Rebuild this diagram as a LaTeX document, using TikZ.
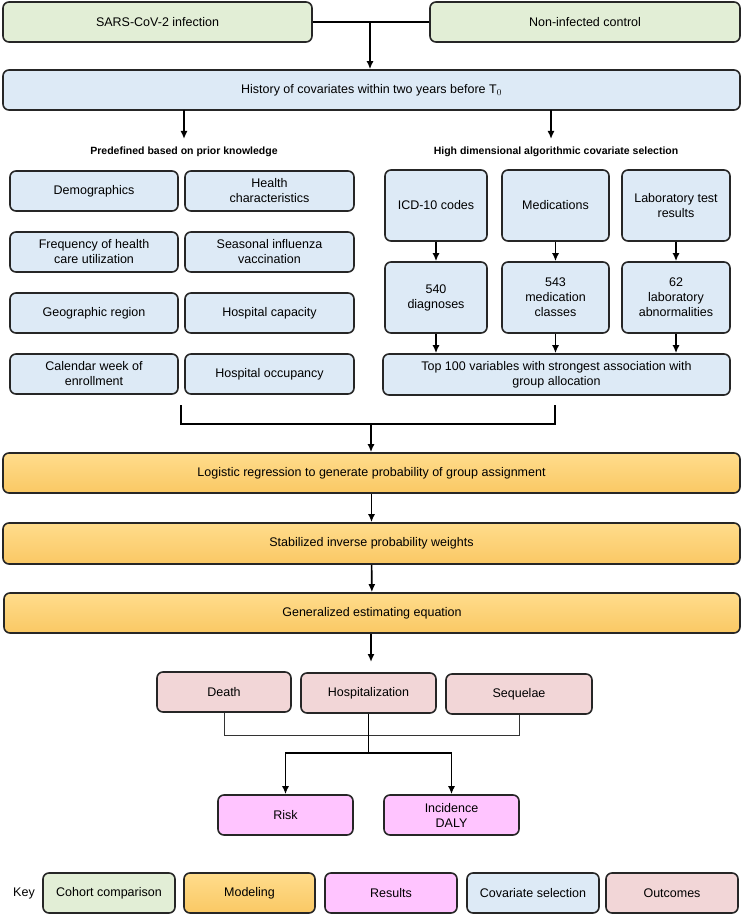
\documentclass[tikz,border=0pt]{standalone}
\usepackage{fontspec}
\setmainfont{Liberation Sans}
\begin{document}
\begin{tikzpicture}[x=1pt,y=-1pt,
  box/.style={draw=black!85,line width=1.6pt,rounded corners=6pt,align=center,inner sep=1pt,font=\fontsize{12.5}{15}\selectfont},
  cohort/.style={box,fill=green!8!olive!10!white,fill={rgb,255:red,226;green,238;blue,214}},
  cov/.style={box,fill={rgb,255:red,221;green,234;blue,246}},
  model/.style={box,top color={rgb,255:red,255;green,220;blue,140},bottom color={rgb,255:red,250;green,200;blue,100}},
  res/.style={box,fill={rgb,255:red,255;green,196;blue,255}},
  outc/.style={box,fill={rgb,255:red,242;green,214;blue,215}},
  arr/.style={line width=1.6pt,-{Latex[length=8pt,width=7pt]}},
  ln/.style={line width=1.6pt},
  thin/.style={line width=0.8pt,black!80},
  head/.style={font=\bfseries\fontsize{10.5}{12}\selectfont}]
\usetikzlibrary{arrows.meta}
\useasboundingbox (0,0) rectangle (742,917);
\def\bx#1#2#3#4#5#6{\node[#2,minimum width=#5-#3,minimum height=#6-#4] (#1) at ({(#3+#5)/2},{(#4+#6)/2})}
% top
\bx{sars}{cohort}{3}{2}{312}{42} {SARS-CoV-2 infection};
\bx{ctrl}{cohort}{430}{2}{740}{42} {Non-infected control};
\bx{hist}{cov}{3}{70}{740}{110} {History of covariates within two years before T$_0$};
\draw[ln] (sars.east) -- (ctrl.west);
\coordinate (j1) at (370,22);
\draw[arr] (j1) -- (j1 |- hist.north);
\node[head] (h1) at (184,152) {Predefined based on prior knowledge};
\node[head] (h2) at (556,152) {High dimensional algorithmic covariate selection};
\draw[arr] (184,110) -- (184,139);
\draw[arr] (551,110) -- (551,139);
% left
\bx{a1}{cov}{10}{171}{178}{211} {Demographics};
\bx{a2}{cov}{185}{171}{354}{211} {Health\\characteristics};
\bx{b1}{cov}{10}{232}{178}{272} {Frequency of health\\care utilization};
\bx{b2}{cov}{185}{232}{354}{272} {Seasonal influenza\\vaccination};
\bx{c1}{cov}{10}{293}{178}{333} {Geographic region};
\bx{c2}{cov}{185}{293}{354}{333} {Hospital capacity};
\bx{d1}{cov}{10}{354}{178}{394} {Calendar week of\\enrollment};
\bx{d2}{cov}{185}{354}{354}{394} {Hospital occupancy};
% right
\bx{r1}{cov}{385}{170}{487}{241} {ICD-10 codes};
\bx{r2}{cov}{502}{170}{609}{241} {Medications};
\bx{r3}{cov}{622}{170}{730}{241} {Laboratory test\\results};
\bx{s1}{cov}{385}{262}{487}{333} {540\\diagnoses};
\bx{s2}{cov}{502}{262}{609}{333} {543\\medication\\classes};
\bx{s3}{cov}{622}{262}{730}{333} {62\\laboratory\\abnormalities};
\bx{top}{cov}{383}{354}{730}{395} {Top 100 variables with strongest association with\\group allocation};
\foreach \u/\v in {r1/s1,r2/s2,r3/s3}{\draw[arr] (\u) -- (\v);}
\draw[arr] (s1.south) -- (s1.south |- top.north);
\draw[arr] (s2.south) -- (s2.south |- top.north);
\draw[arr] (s3.south) -- (s3.south |- top.north);
% modeling
\bx{lr}{model}{3}{453}{740}{493} {Logistic regression to generate probability of group assignment};
\bx{sw}{model}{3}{523}{740}{564} {Stabilized inverse probability weights};
\bx{ge}{model}{4}{593}{740}{633} {Generalized estimating equation};
\draw[ln] (181,405) -- (181,424) -- (555,424) -- (555,405);
\draw[arr] (371,424) -- (lr.north -| 371,0);
\draw[arr] (lr) -- (sw);
\draw[arr] (sw) -- (ge);
\coordinate (g1) at (371,662);
\draw[arr] (ge.south -| g1) -- (g1);
% outcomes
\bx{death}{outc}{157}{672}{291}{712} {Death};
\bx{hosp}{outc}{301}{673}{436}{713} {Hospitalization};
\bx{seq}{outc}{446}{674}{592}{714} {Sequelae};
\draw[thin] (death.south) -- (death.south |- 0,735) -- (seq.south |- 0,735) -- (seq.south);
\bx{risk}{res}{218}{795}{353}{835} {Risk};
\bx{inc}{res}{384}{795}{519}{835} {Incidence\\DALY};
\coordinate (k) at (hosp.south |- 0,753);
\draw[ln] (hosp.south) -- (k);
\draw[arr] (k) -| (risk.north);
\draw[arr] (k) -| (inc.north);
% key
\node[font=\fontsize{12.5}{15}\selectfont] (key) at (24,893) {Key};
\bx{k1}{cohort}{43}{873}{175}{913} {Cohort comparison};
\bx{k2}{model}{184}{873}{315}{913} {Modeling};
\bx{k3}{res}{325}{873}{457}{913} {Results};
\bx{k4}{cov}{467}{873}{599}{913} {Covariate selection};
\bx{k5}{outc}{606}{873}{738}{913} {Outcomes};
\end{tikzpicture}
\end{document}
